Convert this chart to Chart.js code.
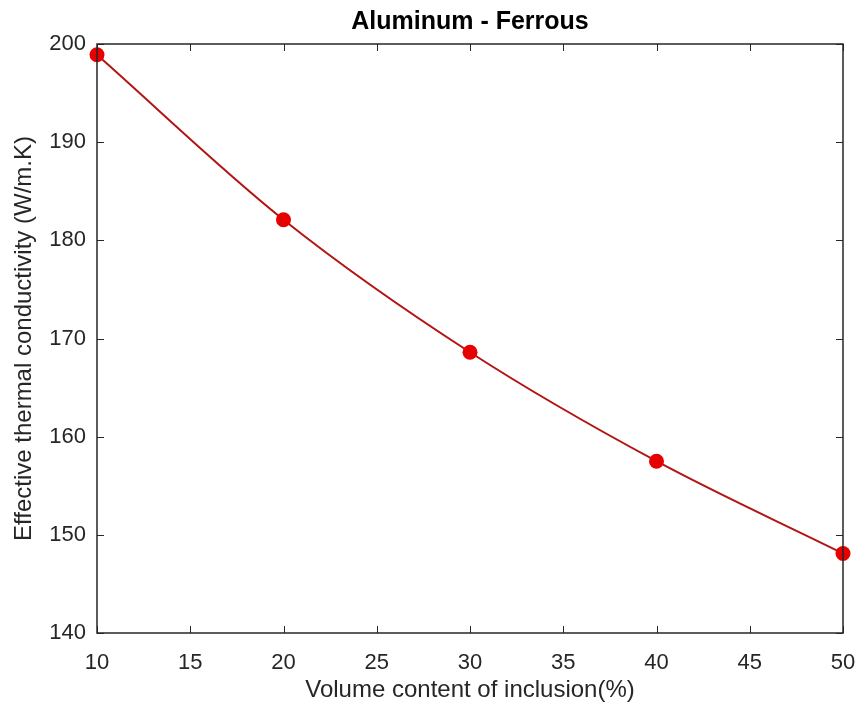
<!DOCTYPE html>
<html>
<head>
<meta charset="utf-8">
<script src="https://cdn.jsdelivr.net/npm/chart.js"></script>
<style>
  body { margin: 0; background: #fff; }
  #wrap { width: 858px; height: 709px; position: relative; }
</style>
</head>
<body>
<div id="wrap"><canvas id="lineChart"></canvas></div>
<script>
const volumeContent = [10, 20, 30, 40, 50];
const conductivity = [198.9, 182.1, 168.6, 157.5, 148.1];
const xTicks = [10, 15, 20, 25, 30, 35, 40, 45, 50];
const yTicks = [140, 150, 160, 170, 180, 190, 200];
const chartTitle = 'Aluminum - Ferrous';

const axisColor = '#262626';
const fontFamily = "'Liberation Sans', Arial, Helvetica, sans-serif";

// box round the plot, inward ticks on all four sides and a title centred on the plot, like MATLAB
const boxPlugin = {
  id: 'boxTicks',
  afterDraw(chart) {
    const ctx = chart.ctx;
    const a = chart.chartArea;
    const xs = chart.scales.x, ys = chart.scales.y;
    const len = 7;
    ctx.save();
    ctx.strokeStyle = axisColor;
    ctx.lineWidth = 1.5;
    ctx.strokeRect(a.left, a.top, a.right - a.left, a.bottom - a.top);
    ctx.lineWidth = 1;
    ctx.beginPath();
    xTicks.forEach(v => {
      const px = Math.round(xs.getPixelForValue(v)) + 0.5;
      ctx.moveTo(px, a.bottom); ctx.lineTo(px, a.bottom - len);
      ctx.moveTo(px, a.top); ctx.lineTo(px, a.top + len);
    });
    yTicks.forEach(v => {
      const py = Math.round(ys.getPixelForValue(v)) + 0.5;
      ctx.moveTo(a.left, py); ctx.lineTo(a.left + len, py);
      ctx.moveTo(a.right, py); ctx.lineTo(a.right - len, py);
    });
    ctx.stroke();

    ctx.fillStyle = '#000';
    ctx.font = 'bold 25px ' + fontFamily;
    ctx.textAlign = 'center';
    ctx.textBaseline = 'middle';
    ctx.fillText(chartTitle, (a.left + a.right) / 2, 22);
    ctx.restore();
  }
};

const data = {
  datasets: [{
    label: chartTitle,
    data: volumeContent.map((x, i) => ({ x: x, y: conductivity[i] })),
    borderColor: '#b31414',
    borderWidth: 2,
    backgroundColor: '#e60000',
    pointBackgroundColor: '#e60000',
    pointBorderColor: '#e60000',
    pointRadius: 7.5,
    pointBorderWidth: 0,
    cubicInterpolationMode: 'monotone',
    clip: false
  }]
};

const config = {
  type: 'line',
  data: data,
  options: {
    responsive: true,
    maintainAspectRatio: false,
    animation: false,
    layout: { padding: { left: 0, right: 15, top: 44, bottom: 0 } },
    plugins: {
      legend: { display: false },
      tooltip: { enabled: false },
      title: { display: false }
    },
    scales: {
      x: {
        type: 'linear',
        min: 10,
        max: 50,
        afterBuildTicks(scale) { scale.ticks = xTicks.map(v => ({ value: v })); },
        afterFit(scale) {
          scale.height = 76;
          scale.paddingLeft = 0;
          scale.paddingRight = 0;
        },
        grid: { display: false, drawTicks: false },
        border: { display: false },
        ticks: {
          color: axisColor,
          padding: 17,
          maxRotation: 0,
          font: { family: fontFamily, size: 22 }
        },
        title: {
          display: true,
          text: 'Volume content of inclusion(%)',
          color: axisColor,
          font: { family: fontFamily, size: 24, lineHeight: 1.2 },
          padding: { top: 0, bottom: 4 }
        }
      },
      y: {
        type: 'linear',
        min: 140,
        max: 200,
        afterBuildTicks(scale) { scale.ticks = yTicks.map(v => ({ value: v })); },
        afterFit(scale) {
          scale.width = 97;
          scale.paddingTop = 0;
          scale.paddingBottom = 0;
        },
        grid: { display: false, drawTicks: false },
        border: { display: false },
        ticks: {
          color: axisColor,
          padding: 11,
          font: { family: fontFamily, size: 22 }
        },
        title: {
          display: true,
          text: 'Effective thermal conductivity (W/m.K)',
          color: axisColor,
          font: { family: fontFamily, size: 24, lineHeight: 1.2 },
          padding: { top: 10, bottom: 0 }
        }
      }
    }
  },
  plugins: [boxPlugin]
};

window.addEventListener('DOMContentLoaded', () => {
  const ctx = document.getElementById('lineChart').getContext('2d');
  new Chart(ctx, config);
});
</script>
</body>
</html>
